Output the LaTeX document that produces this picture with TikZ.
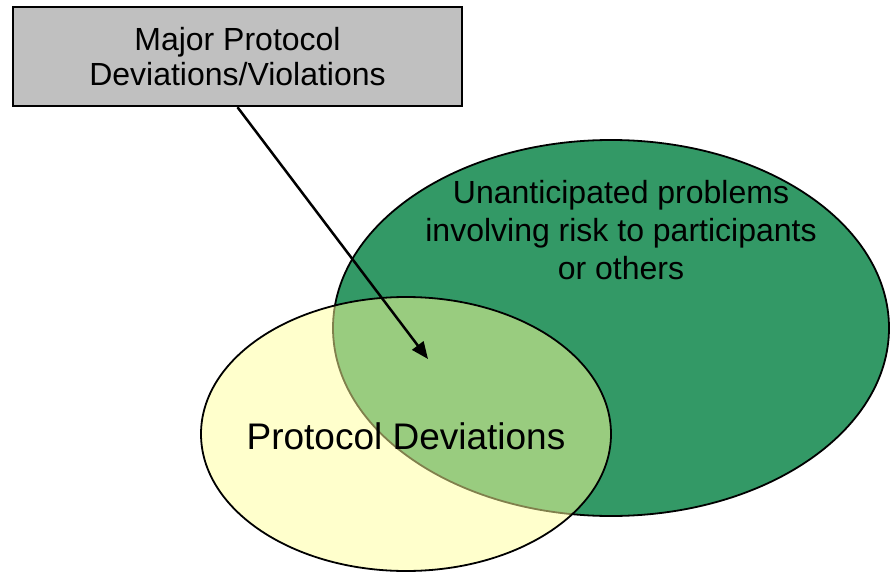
\documentclass[tikz,border=0pt]{standalone}
\usepackage{fontspec}
\setmainfont{Liberation Sans}
\usetikzlibrary{arrows.meta}
\definecolor{upgreen}{HTML}{339966}
\definecolor{pdyellow}{HTML}{FFFF99}
\definecolor{boxgray}{HTML}{C0C0C0}
\begin{document}
\begin{tikzpicture}[x=1pt,y=-1pt,
  blob/.style={draw=black,line width=1.8pt},
  txt/.style={font=\fontsize{32}{38}\selectfont,align=center,inner sep=0pt}]
\useasboundingbox (0,0) rectangle (893,572);
\path[blob,fill=upgreen] (611,328) ellipse [x radius=278pt, y radius=188pt];
\path[blob,fill=pdyellow,fill opacity=0.5] (406,434) ellipse [x radius=205pt, y radius=137pt];
\node[txt] (up) at (621,230) {Unanticipated problems\\involving risk to participants\\or others};
\node[txt,font=\fontsize{37}{42}\selectfont] (pd) at (406,436) {Protocol Deviations};
\node[draw,line width=2.4pt,fill=boxgray,minimum width=449pt,minimum height=99pt,
  txt,font=\fontsize{32}{35}\selectfont] (major) at (237.5,56.5) {Major Protocol\\Deviations/Violations};
\coordinate (tip) at (428,359);
\draw[line width=2.5pt,-{Triangle[length=17pt,width=14pt]}] (major.south) -- (tip);
\end{tikzpicture}
\end{document}
